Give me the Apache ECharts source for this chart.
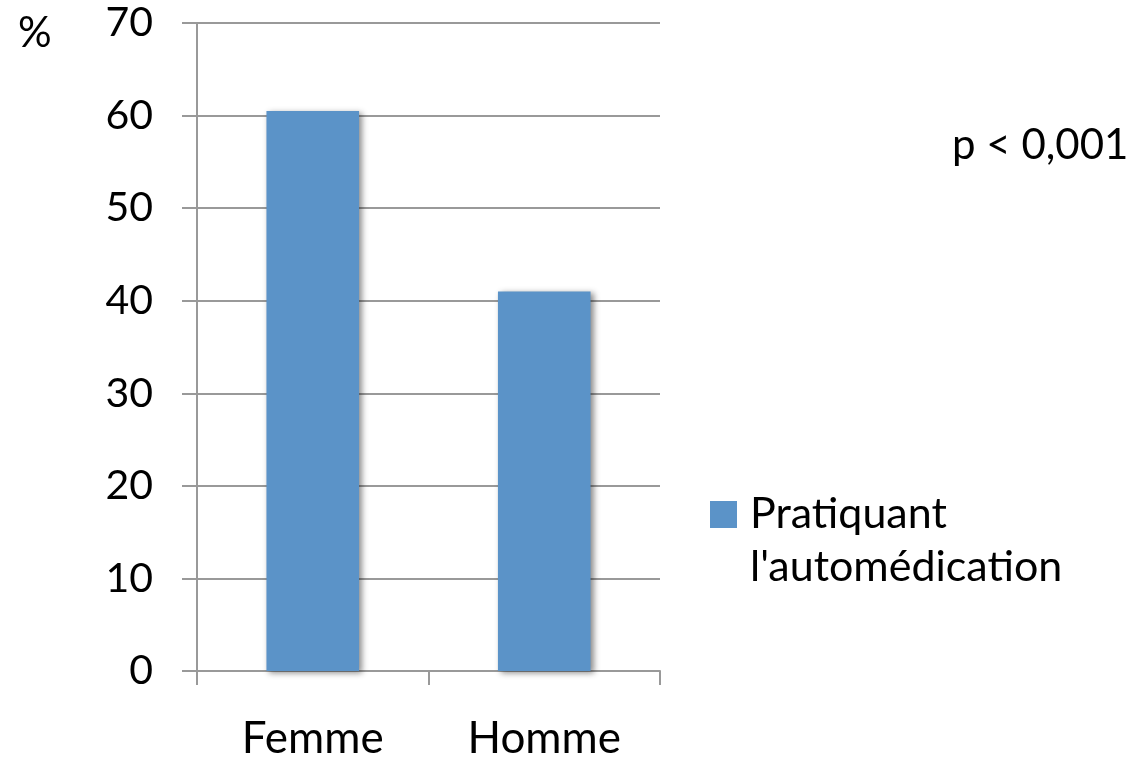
<!DOCTYPE html>
<html><head><meta charset="utf-8">
<script src="https://cdn.jsdelivr.net/npm/echarts@6/dist/echarts.min.js"></script>
<style>html,body{margin:0;padding:0;background:#fff;overflow:hidden}#c{width:1135px;height:761px}</style>
</head><body><div id="c"></div>
<script>
const categories = ['Femme', 'Homme'];
const values = [60.5, 41];
const seriesName = "Pratiquant l'automédication";
const yTicks = { min: 0, max: 70, interval: 10 };

const FONT = 'Lato';
const chart = echarts.init(document.getElementById('c'));
chart.setOption({
  animation: false,
  backgroundColor: '#fff',
  textStyle: { fontFamily: FONT },
  grid: { left: 197, right: 475, top: 23, bottom: 84 },
  legend: {
    show: true,
    left: 705, top: 430,
    orient: 'vertical',
    itemWidth: 27, itemHeight: 27, itemGap: 10,
    icon: 'rect',
    formatter: () => '\nPratiquant\nl\'automédication',
    textStyle: { fontFamily: FONT, fontSize: 43, color: '#000', lineHeight: 53, padding: [0, 0, 0, 8] }
  },
  graphic: [
    { type: 'text', left: 18, top: 12, style: { text: '%', font: '42px Lato', fill: '#000' } },
    { type: 'text', left: 952, top: 124, style: { text: 'p < 0,001', font: '42px Lato', fill: '#000' } }
  ],
  xAxis: {
    type: 'category',
    data: categories,
    axisLine: { lineStyle: { color: '#999', width: 2 } },
    axisTick: { show: true, length: 14, lineStyle: { color: '#999', width: 2 } },
    axisLabel: { fontFamily: FONT, fontSize: 44, color: '#000', margin: 46 }
  },
  yAxis: {
    type: 'value',
    min: yTicks.min, max: yTicks.max, interval: yTicks.interval,
    axisLine: { show: true, lineStyle: { color: '#999', width: 2 } },
    axisTick: { show: true, length: 15, lineStyle: { color: '#999', width: 2 } },
    splitLine: { lineStyle: { color: '#999', width: 2 } },
    axisLabel: { fontFamily: FONT, fontSize: 41, color: '#000', margin: 44 }
  },
  series: [{
    name: seriesName,
    type: 'bar',
    data: values,
    barWidth: '40%',
    itemStyle: {
      color: '#5B93C8',
      shadowColor: 'rgba(0,0,0,0.45)', shadowBlur: 6, shadowOffsetX: 3, shadowOffsetY: 2
    }
  }]
});
</script></body></html>
